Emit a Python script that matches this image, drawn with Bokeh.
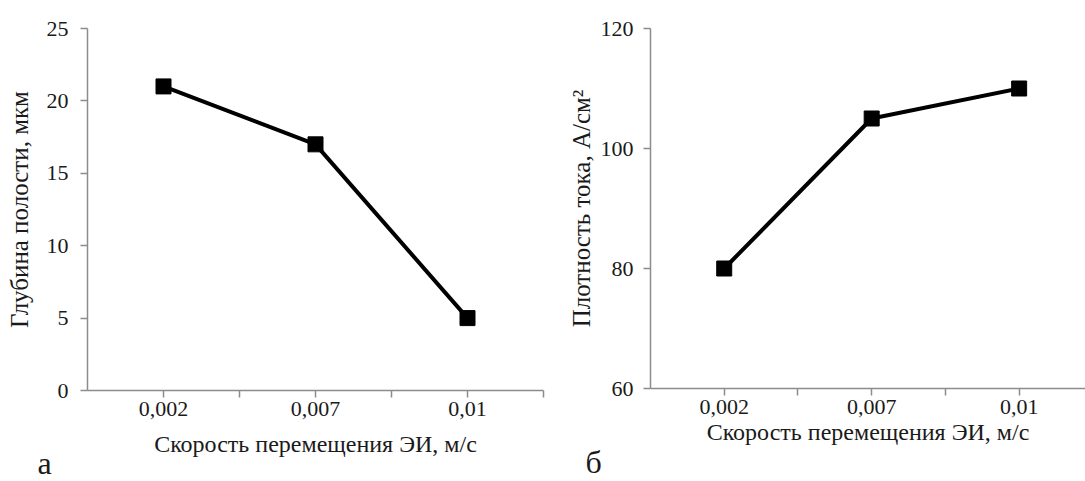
from bokeh.plotting import figure
from bokeh.layouts import row
from bokeh.models import FixedTicker, Title
from bokeh.embed import file_html
from bokeh.resources import INLINE

categories = ["0,002", "0,007", "0,01"]
depth = [21, 17, 5]
density = [80, 105, 110]
depth_ticks = [0, 5, 10, 15, 20, 25]
density_ticks = [60, 80, 100, 120]
x_title = "Скорость перемещения ЭИ, м/с"
y_title_a = "Глубина полости, мкм"
y_title_b = "Плотность тока, А/см²"
panel_a = "а"
panel_b = "б"

FONT = "Liberation Serif"
AX = "#8c8c8c"
TXT = "#1a1a1a"

xpos = [i + 0.5 for i in range(len(categories))]
xticks = [k * 0.5 for k in range(1, 2 * len(categories) + 1)]
overrides = {t: "" for t in xticks}
for c, xp in zip(categories, xpos):
    overrides[xp] = c


def make(yvals, yticks, ytitle, xend, fw, fh, left, top, right,
         ylab_standoff, ytick_standoff, xlab_standoff, letter, letter_off, letter_standoff):
    p = figure(frame_width=fw, frame_height=fh, min_border_left=left, min_border_top=top,
               min_border_right=right, min_border_bottom=481 - top - fh,
               x_range=(0, xend), y_range=(yticks[0], yticks[-1]),
               output_backend="svg", toolbar_location=None)
    p.outline_line_color = None
    p.xgrid.visible = False
    p.ygrid.visible = False
    p.background_fill_color = "white"
    p.border_fill_color = "white"

    p.xaxis.ticker = FixedTicker(ticks=xticks)
    p.xaxis.major_label_overrides = overrides
    p.yaxis.ticker = FixedTicker(ticks=yticks)
    for ax in (p.xaxis, p.yaxis):
        ax.axis_line_color = AX
        ax.axis_line_width = 1.5
        ax.major_tick_line_color = AX
        ax.major_tick_line_width = 1.5
        ax.major_tick_out = 7
        ax.major_tick_in = 0
        ax.minor_tick_line_color = None
        ax.major_label_text_font = FONT
        ax.major_label_text_font_size = "22px"
        ax.major_label_text_color = TXT
        ax.axis_label_text_font = FONT
        ax.axis_label_text_font_style = "normal"
        ax.axis_label_text_color = TXT
    p.xaxis.major_label_standoff = 4
    p.yaxis.major_label_standoff = ytick_standoff

    p.yaxis.axis_label = ytitle
    p.yaxis.axis_label_text_font_size = "25px"
    p.yaxis.axis_label_standoff = ylab_standoff

    p.xaxis.axis_label = x_title
    p.xaxis.axis_label_text_font_size = "24px"
    p.xaxis.axis_label_standoff = xlab_standoff

    p.line(xpos, yvals, line_color="black", line_width=4)
    p.scatter(xpos, yvals, marker="square", size=15, fill_color="black", line_color="black")

    p.add_layout(Title(text=letter, align="left", offset=letter_off, vertical_align="bottom",
                       standoff=letter_standoff, text_font=FONT, text_font_size="32px",
                       text_font_style="normal", text_color=TXT), "below")
    return p


pa = make(depth, depth_ticks, y_title_a, 3.0, 456, 362, 87, 26, 17,
          11, 12, 12, panel_a, -50, -33)
pb = make(density, density_ticks, y_title_b, 2.95, 435, 360, 90, 28, 0,
          3, 10, 2, panel_b, -65, -12)

layout = row(pa, pb)
open("out.html", "w").write(file_html(layout, INLINE))
